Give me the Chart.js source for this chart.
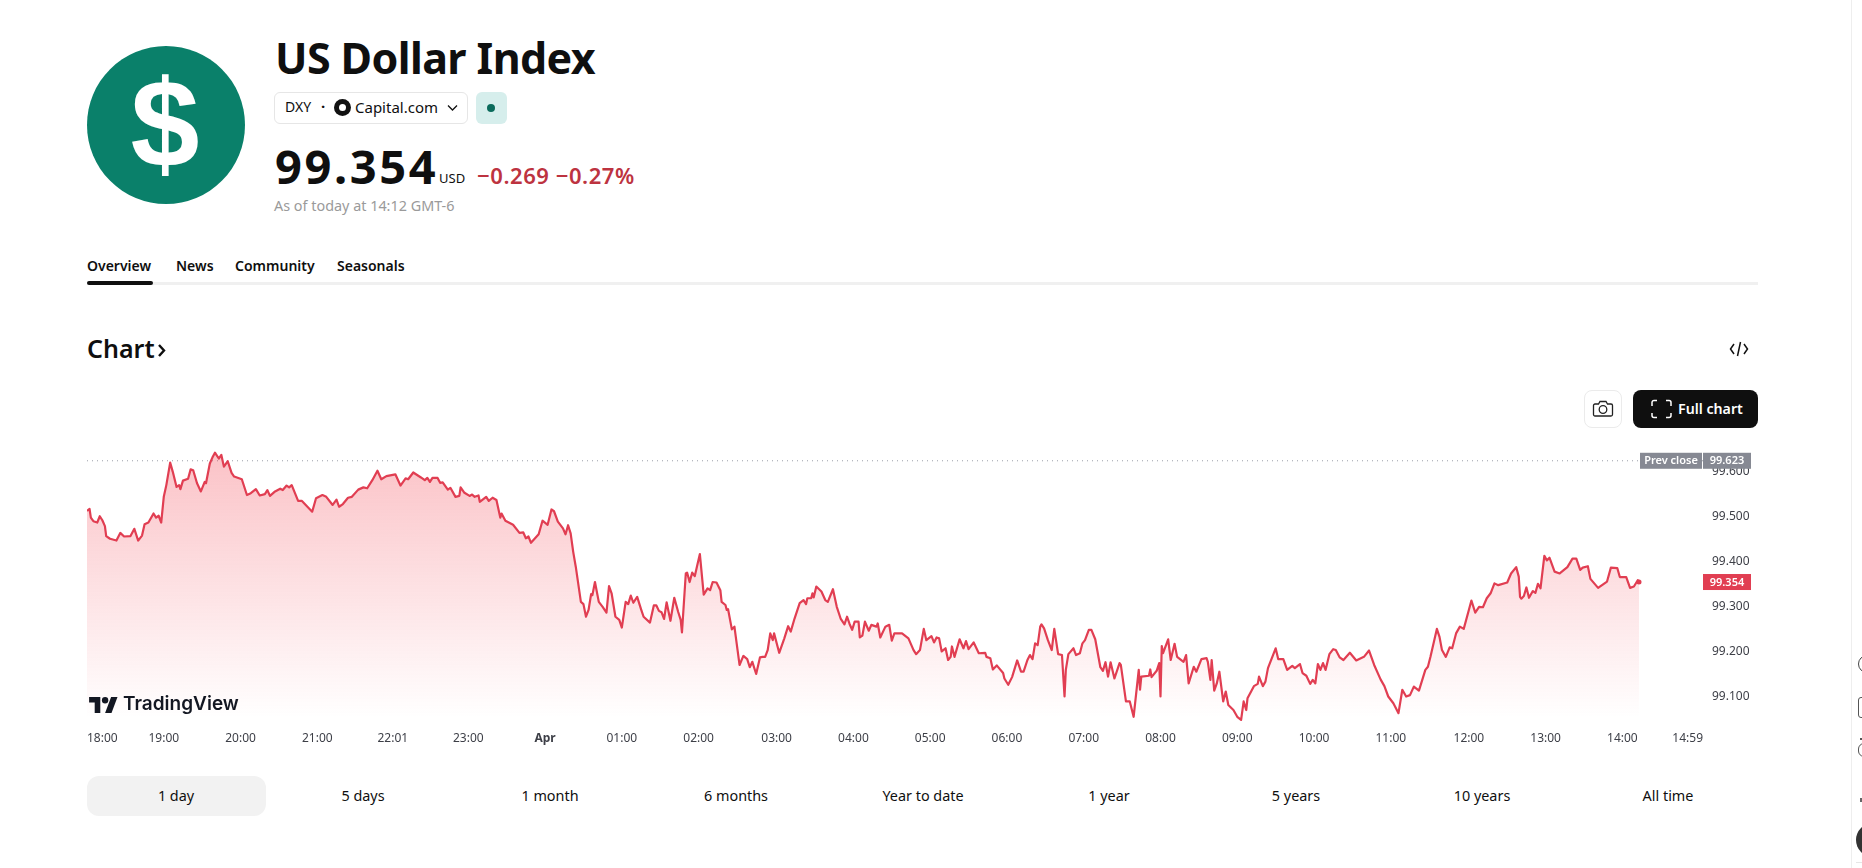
<!DOCTYPE html>
<html>
<head>
<meta charset="utf-8">
<title>US Dollar Index</title>
<script src="https://cdn.jsdelivr.net/npm/chart.js@4"></script>
<style>
  html, body { margin: 0; padding: 0; background: #fff; }
  body { position: relative; width: 1862px; height: 868px; overflow: hidden; font-family: "Noto Sans", sans-serif; color: #0f0f0f; }
  .t { position: absolute; white-space: nowrap; line-height: 1; }
  .box { position: absolute; box-sizing: border-box; }
  #priceChart { position: absolute; left: 87px; top: 445px; }
  .range { position: absolute; top: 787px; font-size: 14.4px; line-height: 18px; transform: translateX(-50%); white-space: nowrap; }
</style>
</head>
<body>
  <!-- header -->
  <div class="box" style="left:87px;top:46px;width:158px;height:158px;border-radius:50%;background:#0a806a"></div>
  <div class="t" style="left:165px;top:62px;transform:translateX(-50%);font:700 124px/1 'Liberation Sans';color:#fff">$</div>
  <div class="t" style="left:275px;top:36px;font-size:43px;font-weight:700;letter-spacing:-0.6px">US Dollar Index</div>

  <div class="box" style="left:274px;top:92px;width:194px;height:32px;border:1px solid #e6e6e6;border-radius:6px"></div>
  <div class="t" style="left:285px;top:100px;font-size:14px">DXY</div>
  <div class="t" style="left:321px;top:99px;font-size:15px;font-weight:700">·</div>
  <div class="box" style="left:334px;top:99px;width:17px;height:17px;border-radius:50%;background:#111"></div>
  <div class="box" style="left:339px;top:104px;width:7px;height:7px;border-radius:50%;background:#fff"></div>
  <div class="t" style="left:355px;top:100px;font-size:15px">Capital.com</div>
  <svg style="position:absolute;left:447px;top:104px" width="11" height="8"><path d="M1 1.5l4.5 4.5L10 1.5" fill="none" stroke="#111" stroke-width="1.3"/></svg>
  <div class="box" style="left:476px;top:92px;width:31px;height:32px;border-radius:6px;background:#d6eeec"></div>
  <div class="box" style="left:487px;top:104px;width:8px;height:8px;border-radius:50%;background:#0b6b5c"></div>

  <div class="t" style="left:275px;top:143px;font-size:47px;font-weight:700;letter-spacing:2.6px">99.354</div>
  <div class="t" style="left:439px;top:172px;font-size:13px">USD</div>
  <div class="t" style="left:477px;top:164px;font-size:22px;font-weight:600;letter-spacing:0.55px;color:#bd3340">−0.269 −0.27%</div>
  <div class="t" style="left:274px;top:199px;font-size:14.4px;color:#9a9a9a">As of today at 14:12 GMT-6</div>

  <!-- tabs -->
  <div class="t" style="left:87px;top:259px;font-size:14px;font-weight:600">Overview</div>
  <div class="t" style="left:176px;top:259px;font-size:14px;font-weight:600">News</div>
  <div class="t" style="left:235px;top:259px;font-size:14px;font-weight:600">Community</div>
  <div class="t" style="left:337px;top:259px;font-size:14px;font-weight:600">Seasonals</div>
  <div class="box" style="left:87px;top:282px;width:1671px;height:3px;background:#f0f0f0"></div>
  <div class="box" style="left:87px;top:281px;width:66px;height:4px;border-radius:2px;background:#0f0f0f"></div>

  <!-- chart heading and buttons -->
  <div class="t" style="left:87px;top:336px;font-size:25px;font-weight:600">Chart</div>
  <svg style="position:absolute;left:157px;top:343px" width="10" height="15"><path d="M2 2l5 5.5L2 13" fill="none" stroke="#0f0f0f" stroke-width="2.4"/></svg>
  <svg style="position:absolute;left:1729px;top:340px" width="20" height="18"><path d="M5 4L1.5 9 5 14M15 4l3.5 5-3.5 5M11.5 2l-3 14" fill="none" stroke="#111" stroke-width="1.5"/></svg>
  <div class="box" style="left:1584px;top:390px;width:38px;height:38px;border:1px solid #ebebeb;border-radius:8px"></div>
  <svg style="position:absolute;left:1592px;top:400px" width="22" height="18"><path d="M1.5 5.5a1.5 1.5 0 0 1 1.5-1.5h3.5l1.5-2.5h6l1.5 2.5H19a1.5 1.5 0 0 1 1.5 1.5v9a1.5 1.5 0 0 1-1.5 1.5H3a1.5 1.5 0 0 1-1.5-1.5z" fill="none" stroke="#222" stroke-width="1.3"/><circle cx="11" cy="9.5" r="3.8" fill="none" stroke="#222" stroke-width="1.3"/></svg>
  <div class="box" style="left:1633px;top:390px;width:125px;height:38px;border-radius:8px;background:#0f0f0f"></div>
  <svg style="position:absolute;left:1651px;top:399px" width="21" height="20"><path d="M6 1.5H3a2 2 0 0 0-2 2V7M15 1.5h3a2 2 0 0 1 2 2V7M6 18.5H3a2 2 0 0 1-2-2V14M15 18.5h3a2 2 0 0 0 2-2V14" fill="none" stroke="#fff" stroke-width="1.5"/></svg>
  <div class="t" style="left:1678px;top:402px;font-size:14.2px;font-weight:600;color:#fff">Full chart</div>

  <canvas id="priceChart" width="1664" height="305"></canvas>

  <!-- TradingView mark -->
  <svg style="position:absolute;left:89px;top:697px" width="29" height="16" viewBox="0 0 36 20"><path d="M14 20H7V7H0V0h14zM28 20h-8l7.5-20h8z" fill="#131722"/><circle cx="20" cy="4" r="4" fill="#131722"/></svg>
  <div class="t" style="left:123px;top:694px;font:600 19px/1 Inter;color:#131722">TradingView</div>

  <!-- range selector -->
  <div class="box" style="left:87px;top:776px;width:179px;height:40px;border-radius:12px;background:#f2f2f2"></div>
  <div class="range" style="left:176px">1 day</div>
  <div class="range" style="left:363px">5 days</div>
  <div class="range" style="left:550px">1 month</div>
  <div class="range" style="left:736px">6 months</div>
  <div class="range" style="left:923px">Year to date</div>
  <div class="range" style="left:1109px">1 year</div>
  <div class="range" style="left:1296px">5 years</div>
  <div class="range" style="left:1482px">10 years</div>
  <div class="range" style="left:1668px">All time</div>

  <!-- page side rail, cut off by the window -->
  <div class="box" style="left:1851px;top:0;width:1px;height:868px;background:#eee"></div>
  <div class="box" style="left:1858px;top:655px;width:18px;height:18px;border:1.5px solid #444;border-radius:50%"></div>
  <div class="box" style="left:1858px;top:697px;width:18px;height:21px;border:1.5px solid #555;border-radius:3px"></div>
  <div class="box" style="left:1858px;top:743px;width:18px;height:14px;border:1.5px solid #555;border-radius:6px"></div>
  <div class="box" style="left:1860px;top:738px;width:2px;height:2px;background:#555"></div>
  <div class="box" style="left:1860px;top:798px;width:2px;height:4px;background:#666"></div>
  <div class="box" style="left:1856px;top:823px;width:34px;height:34px;border-radius:50%;background:#333"></div>
  <div class="box" style="left:1856px;top:862px;width:6px;height:1px;background:#e6e6e6"></div>

<script>
// DXY, 1 day. The time axis counts one-minute bars from 18:00,
// and a few bars are missing, which is why the hour labels slip against the clock.
const minutes = [
  0,2,3,5,8,10,12,14,15,18,23,26,29,34,37,40,43,45,48,52,
  54,56,58,60,62,65,67,70,72,73,75,79,81,83,86,89,92,93,96,98,
  100,103,105,107,110,113,115,121,125,128,132,135,139,141,143,147,151,153,156,158,
  160,165,168,176,179,184,187,192,195,197,200,204,207,212,216,219,223,227,230,234,
  241,245,249,251,255,261,264,266,268,270,274,276,278,282,284,288,291,292,295,299,
  301,303,306,307,312,314,317,320,323,324,327,333,338,341,343,345,347,353,356,360,
  363,365,368,372,374,376,378,380,382,386,388,390,392,394,395,397,400,403,406,408,
  410,413,416,418,421,423,425,427,430,433,435,440,443,445,447,449,451,453,456,459,
  462,464,465,468,469,471,473,475,477,479,482,485,487,489,492,495,496,499,500,501,
  504,506,510,513,516,518,520,523,526,528,530,532,534,536,537,541,545,548,550,553,
  557,560,562,563,566,567,568,570,574,577,579,583,586,589,592,594,596,598,600,603,
  604,606,608,611,613,617,618,620,624,627,629,631,637,642,646,648,651,654,656,660,
  662,664,666,668,671,673,675,676,678,682,685,687,689,693,697,702,703,706,708,711,
  716,717,720,723,727,730,732,735,737,739,741,743,745,746,748,751,754,756,759,762,
  764,765,767,771,773,776,778,780,783,785,788,792,794,796,798,800,803,807,808,812,
  815,818,822,823,824,830,831,832,836,838,839,840,841,845,847,850,852,857,859,861,
  865,867,871,875,876,878,879,881,883,885,888,890,892,896,899,902,904,906,907,912,
  915,916,919,921,923,929,931,935,938,942,944,948,950,953,956,958,960,962,964,966,
  968,971,974,976,979,982,987,992,998,1002,1006,1011,1014,1017,1021,1025,1028,1031,1034,1037,
  1041,1046,1048,1050,1055,1057,1059,1062,1065,1067,1070,1073,1076,1080,1082,1085,1088,1091,1094,1097,
  1100,1103,1110,1113,1117,1119,1120,1121,1123,1125,1127,1130,1132,1134,1136,1139,1141,1143,1147,1151,
  1157,1161,1164,1167,1169,1173,1175,1181,1188,1191,1196,1198,1203,1206,1209,1212,1213
];
const closes = [
  99.512,99.516,99.497,99.489,99.486,99.500,99.491,99.478,99.456,99.450,99.446,99.463,99.455,99.456,99.472,99.446,99.457,99.482,99.486,99.506,
  99.497,99.501,99.486,99.543,99.569,99.619,99.599,99.565,99.569,99.560,99.579,99.583,99.604,99.602,99.573,99.555,99.576,99.573,99.617,99.630,
  99.641,99.628,99.636,99.610,99.622,99.596,99.588,99.582,99.547,99.551,99.560,99.546,99.549,99.558,99.545,99.555,99.561,99.558,99.568,99.564,
  99.569,99.534,99.534,99.510,99.540,99.547,99.543,99.525,99.537,99.521,99.527,99.541,99.543,99.559,99.564,99.562,99.580,99.601,99.582,99.589,
  99.593,99.568,99.584,99.582,99.597,99.586,99.580,99.585,99.576,99.585,99.585,99.574,99.575,99.559,99.563,99.543,99.545,99.564,99.552,99.545,
  99.548,99.543,99.546,99.532,99.543,99.534,99.541,99.536,99.497,99.506,99.490,99.481,99.463,99.464,99.451,99.455,99.441,99.460,99.490,99.481,
  99.515,99.511,99.488,99.473,99.460,99.480,99.462,99.421,99.388,99.310,99.305,99.277,99.292,99.327,99.325,99.354,99.310,99.299,99.286,99.345,
  99.329,99.277,99.270,99.253,99.310,99.305,99.324,99.308,99.321,99.294,99.277,99.264,99.302,99.302,99.290,99.287,99.272,99.309,99.268,99.319,
  99.288,99.270,99.242,99.373,99.375,99.354,99.375,99.367,99.392,99.416,99.326,99.340,99.336,99.354,99.353,99.336,99.310,99.303,99.292,99.294,
  99.249,99.255,99.170,99.190,99.183,99.165,99.177,99.150,99.187,99.188,99.188,99.203,99.240,99.225,99.240,99.197,99.229,99.256,99.244,99.273,
  99.307,99.314,99.305,99.318,99.318,99.329,99.320,99.344,99.333,99.314,99.310,99.338,99.299,99.273,99.260,99.277,99.261,99.248,99.266,99.266,
  99.231,99.235,99.266,99.246,99.259,99.255,99.262,99.231,99.255,99.259,99.224,99.240,99.240,99.229,99.203,99.194,99.203,99.250,99.225,99.234,
  99.220,99.231,99.229,99.200,99.207,99.181,99.188,99.211,99.188,99.227,99.207,99.223,99.205,99.220,99.196,99.197,99.188,99.185,99.160,99.169,
  99.152,99.140,99.126,99.143,99.180,99.155,99.155,99.181,99.192,99.183,99.218,99.214,99.255,99.260,99.251,99.225,99.203,99.250,99.194,99.192,
  99.100,99.159,99.194,99.207,99.192,99.196,99.218,99.225,99.248,99.248,99.227,99.165,99.157,99.176,99.144,99.176,99.140,99.174,99.170,99.089,
  99.089,99.055,99.159,99.115,99.144,99.146,99.160,99.143,99.157,99.174,99.100,99.212,99.196,99.227,99.181,99.217,99.188,99.177,99.192,99.129,
  99.166,99.155,99.183,99.185,99.177,99.137,99.181,99.113,99.129,99.155,99.089,99.111,99.081,99.070,99.055,99.048,99.089,99.070,99.096,99.123,
  99.128,99.144,99.123,99.133,99.163,99.207,99.183,99.183,99.159,99.168,99.163,99.172,99.152,99.146,99.128,99.137,99.129,99.172,99.159,99.174,
  99.159,99.194,99.205,99.203,99.187,99.181,99.197,99.180,99.188,99.202,99.170,99.138,99.123,99.100,99.085,99.063,99.115,99.100,99.103,99.122,
  99.113,99.159,99.166,99.188,99.250,99.233,99.203,99.188,99.209,99.207,99.240,99.255,99.250,99.292,99.313,99.286,99.299,99.298,99.318,99.329,
  99.351,99.347,99.353,99.373,99.387,99.366,99.321,99.317,99.323,99.342,99.319,99.334,99.330,99.350,99.340,99.412,99.402,99.408,99.377,99.373,
  99.387,99.406,99.406,99.381,99.386,99.389,99.361,99.341,99.355,99.386,99.385,99.365,99.365,99.341,99.344,99.358,99.354
];

const tickMinutes = [0,60,120,180,239,298,358,418,478,539,599,659,719,779,839,899,959,1019,1080,1140,1200,1263];
const tickLabels = ["18:00","19:00","20:00","21:00","22:01","23:00","Apr","01:00","02:00","03:00","04:00","05:00","06:00","07:00","08:00","09:00","10:00","11:00","12:00","13:00","14:00","14:59"];
const priceTicks = [99.1,99.2,99.3,99.4,99.5,99.6];
const prevClose = 99.623;
const lastPrice = 99.354;

const LINE = "#e13e52";
const priceTag = (ctx, y, x, w, bg, text) => {
  ctx.fillStyle = bg;
  ctx.fillRect(x, y - 8, w, 16);
  ctx.fillStyle = "#fff";
  ctx.fillText(text, x + w / 2, y + 0.5);
};

// the two tags on the price axis sit on top of the tick labels
const tagsPlugin = {
  id: "priceTags",
  afterDraw(chart) {
    const { ctx, chartArea, scales } = chart;
    ctx.save();
    ctx.font = '600 11px "Noto Sans"';
    ctx.textAlign = "center";
    ctx.textBaseline = "middle";
    const prevY = scales.y.getPixelForValue(prevClose);
    priceTag(ctx, prevY, chartArea.right - 63, 62, "#868993", "Prev close");
    priceTag(ctx, prevY, chartArea.right, 48, "#868993", prevClose.toFixed(3));
    priceTag(ctx, scales.y.getPixelForValue(lastPrice), chartArea.right, 48, LINE, lastPrice.toFixed(3));
    ctx.restore();
  },
};

const areaFill = (c) => {
  const { chartArea, scales } = c.chart;
  if (!chartArea) return "transparent";
  const top = scales.y.getPixelForValue(Math.max(...closes));
  const g = c.chart.ctx.createLinearGradient(0, top, 0, chartArea.bottom - 6);
  g.addColorStop(0, "rgba(242,54,69,0.30)");
  g.addColorStop(1, "rgba(242,54,69,0)");
  return g;
};

// no room kept for half labels: the plot has to run to the canvas edges
const noPadding = (s) => { s.paddingLeft = s.paddingRight = s.paddingTop = s.paddingBottom = 0; };

new Chart(document.getElementById("priceChart"), {
  type: "line",
  data: {
    datasets: [
      {
        data: minutes.map((m, i) => ({ x: m, y: closes[i] })),
        borderColor: LINE,
        borderWidth: 2.2,
        borderJoinStyle: "round",
        backgroundColor: areaFill,
        fill: "start",
        tension: 0,
        pointRadius: (c) => (c.dataIndex === minutes.length - 1 ? 2.5 : 0),
        pointBackgroundColor: LINE,
        pointBorderWidth: 0,
      },
      {
        data: [{ x: 0, y: prevClose }, { x: 1263, y: prevClose }],
        borderColor: "#9a9ea8",
        borderWidth: 1,
        borderDash: [1, 4],
        pointRadius: 0,
        fill: false,
      },
    ],
  },
  options: {
    responsive: false,
    animation: false,
    layout: { autoPadding: false, padding: 0 },
    plugins: { legend: { display: false }, tooltip: { enabled: false } },
    scales: {
      x: {
        type: "linear",
        min: 0,
        max: 1263,
        grid: { display: false, drawTicks: false },
        border: { display: false },
        afterBuildTicks: (s) => { s.ticks = tickMinutes.map((value) => ({ value })); },
        afterFit: (s) => { s.height = 26; noPadding(s); },
        ticks: {
          autoSkip: false,
          maxRotation: 0,
          align: "inner",
          padding: 7,
          color: "#3d3f47",
          font: (c) => ({ family: "Noto Sans", size: 12, weight: c.tick && c.tick.value === 358 ? "700" : "400" }),
          callback: (v) => tickLabels[tickMinutes.indexOf(v)],
        },
      },
      y: {
        position: "right",
        min: 99.039,
        max: 99.658,
        grid: { display: false, drawTicks: false },
        border: { display: false },
        afterBuildTicks: (s) => { s.ticks = priceTicks.map((value) => ({ value })); },
        afterFit: (s) => { s.width = 48; noPadding(s); },
        ticks: {
          padding: 9,
          color: "#3d3f47",
          font: { family: "Noto Sans", size: 12 },
          callback: (v) => v.toFixed(3),
        },
      },
    },
  },
  plugins: [tagsPlugin],
});
</script>
</body>
</html>
